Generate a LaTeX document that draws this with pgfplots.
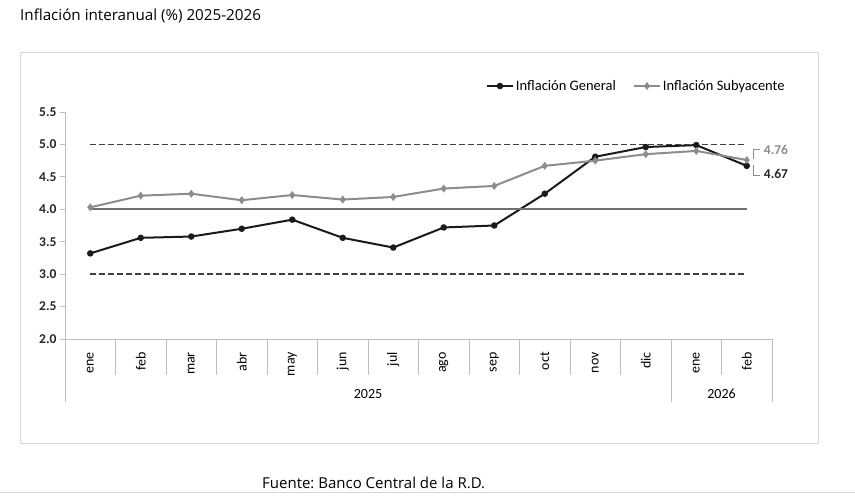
\documentclass[border=0pt]{standalone}
\usepackage{fontspec}
\setmainfont{Carlito}
\newfontfamily\segoe{Open Sans}
\usepackage{pgfplots}
\pgfplotsset{compat=1.18}
\frenchspacing
\definecolor{frame}{HTML}{D9D9D9}
\definecolor{sep}{HTML}{BFBFBF}
\definecolor{gen}{HTML}{1A1A1A}
\definecolor{sub}{HTML}{8C8C8C}
\definecolor{bandcol}{HTML}{404040}
\definecolor{meta}{HTML}{707070}
\begin{document}
\begin{tikzpicture}
\useasboundingbox (0,0) rectangle (855pt,-499pt);
% outer frame and texts around it
\draw[frame, line width=0.8pt] (20pt,-52pt) rectangle (818pt,-443pt);
\draw[frame, line width=0.8pt] (0pt,-492pt) -- (855pt,-492pt);
\node[anchor=base west, inner sep=0pt, font=\segoe\fontsize{15.2}{17}\selectfont] at (20pt,-20pt) {Inflación interanual (\%) 2025-2026};
\node[anchor=base west, inner sep=0pt, font=\segoe\fontsize{15}{17}\selectfont] at (262pt,-488pt) {Fuente: Banco Central de la R.D.};

\begin{axis}[
  at={(65pt,-339pt)}, anchor=south west,
  scale only axis, width=707pt, height=227pt,
  xmin=-0.5, xmax=13.5, ymin=2, ymax=5.5,
  axis x line*=bottom, axis y line*=left,
  axis line style={sep, line width=0.8pt},
  xtick={0,...,13},
  xticklabels={ene,feb,mar,abr,may,jun,jul,ago,sep,oct,nov,dic,ene,feb},
  xtick style={draw=none},
  xticklabel style={rotate=90, anchor=east, inner sep=0pt, font=\fontsize{14}{16}\selectfont},
  xticklabel shift=8pt,
  ytick={2,2.5,...,5.5},
  tick align=outside, major tick length=5pt,
  ytick style={sep, line width=0.8pt},
  yticklabel style={font=\bfseries\fontsize{13.5}{15}\selectfont, text=black!85},
  /pgf/number format/.cd, fixed, fixed zerofill, precision=1, assume math mode=true,
  /pgfplots/.cd,
  clip=false,
  legend columns=2,
  legend style={draw=none, fill=none, at={(1.021,1.1145)}, anchor=east,
    font=\fontsize{14.5}{16}\selectfont, inner sep=0pt,
    /tikz/every even column/.append style={column sep=15pt}},
  legend cell align=left,
  legend image code/.code={\draw[mark repeat=2,mark phase=2,#1] plot coordinates {(0pt,0pt)(13pt,0pt)(26pt,0pt)};},
]
\addplot[gen, line width=2pt, mark=*, mark size=2.2pt] table {
x y
0 3.32
1 3.56
2 3.58
3 3.70
4 3.84
5 3.56
6 3.41
7 3.72
8 3.75
9 4.24
10 4.81
11 4.96
12 4.99
13 4.67
};
\addlegendentry{Inflación General}
\addplot[sub, line width=2pt, mark=diamond*, mark size=2.4pt] table {
x y
0 4.03
1 4.21
2 4.24
3 4.14
4 4.22
5 4.15
6 4.19
7 4.32
8 4.36
9 4.67
10 4.75
11 4.85
12 4.90
13 4.76
};
\addlegendentry{Inflación Subyacente}
% target band
\addplot[bandcol, line width=1.8pt, dash pattern=on 6pt off 3pt, forget plot] coordinates {(0,5) (13,5)};
\addplot[bandcol, line width=1.8pt, dash pattern=on 6pt off 3pt, forget plot] coordinates {(0,3) (13,3)};
\addplot[meta, line width=2pt, forget plot] coordinates {(0,4) (13,4)};
% category separators
\foreach \i in {0,...,13} {
  \edef\temp{\noexpand\draw[sep, line width=0.8pt] (axis cs:\i-0.5,2) -- ++(0pt,-36pt);}
  \temp
}
\draw[sep, line width=0.8pt] (axis cs:-0.5,2) -- ++(0pt,-63pt);
\draw[sep, line width=0.8pt] (axis cs:11.5,2) -- ++(0pt,-63pt);
\draw[sep, line width=0.8pt] (axis cs:13.5,2) -- ++(0pt,-63pt);
\node[font=\fontsize{14}{16}\selectfont] at (axis cs:5.5,2) [yshift=-55pt] {2025};
\node[font=\fontsize{14}{16}\selectfont] at (axis cs:12.5,2) [yshift=-55pt] {2026};
% end labels
\draw[sub, line width=0.8pt] (axis cs:13,4.76) ++(13pt,11pt) -- ++(-6pt,0pt) -- ++(0pt,-10pt);
\draw[sub, line width=0.8pt] (axis cs:13,4.76) ++(7pt,-5pt) -- ++(0pt,-10pt) -- ++(6pt,0pt);
\node[anchor=west, text=sub, font=\bfseries\fontsize{13.5}{15}\selectfont, inner sep=0pt] at (axis cs:13,4.76) [xshift=17pt, yshift=10pt] {4.76};
\node[anchor=west, text=black!85, font=\bfseries\fontsize{13.5}{15}\selectfont, inner sep=0pt] at (axis cs:13,4.76) [xshift=17pt, yshift=-14pt] {4.67};
\end{axis}
\end{tikzpicture}
\end{document}
